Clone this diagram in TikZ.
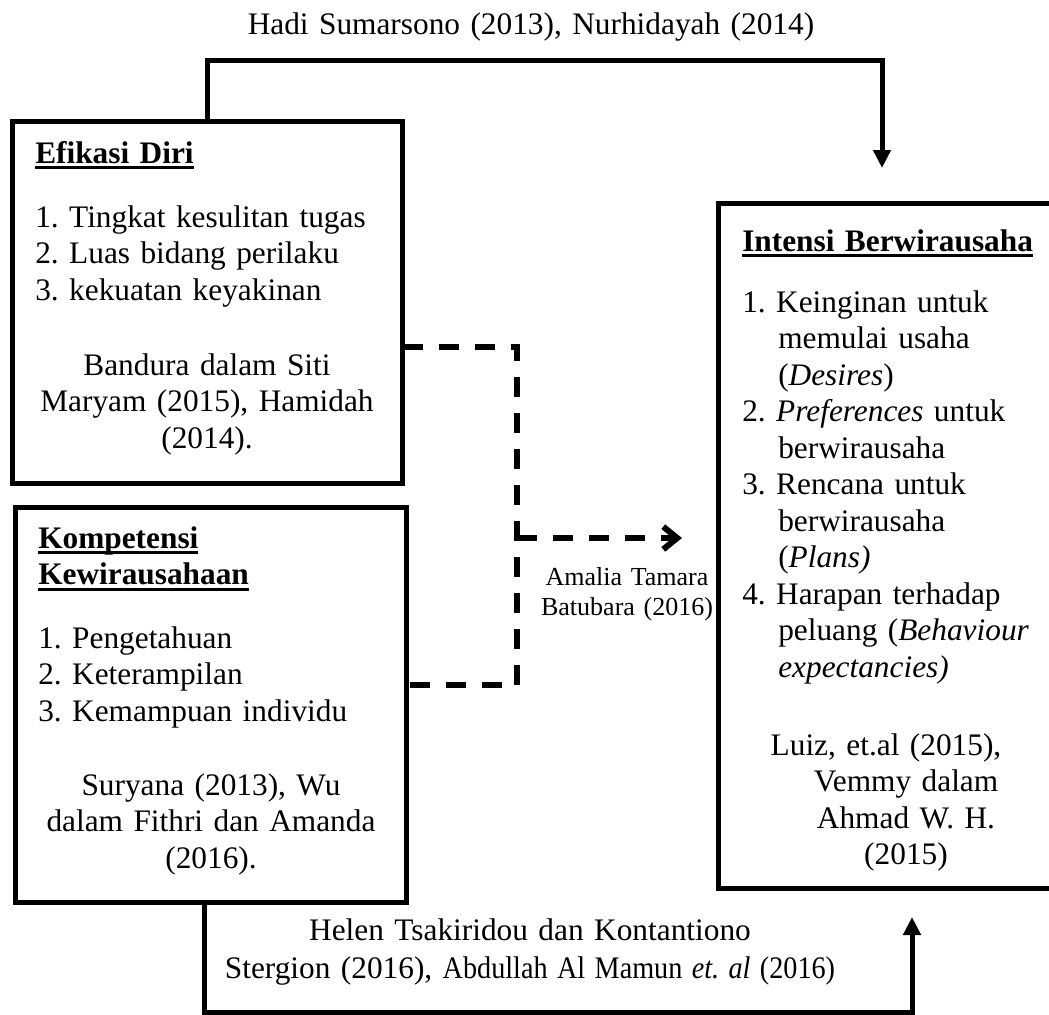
\documentclass[tikz,border=0pt]{standalone}
\usepackage{fontspec}
\setmainfont{Liberation Serif}
\usepackage{tikz}
\usetikzlibrary{arrows.meta}
\frenchspacing
\newsavebox{\titlebox}
\newcommand{\titleline}[1]{\sbox{\titlebox}{#1}\leavevmode\hbox{\rlap{\rule[-4.5pt]{\wd\titlebox}{2.2pt}}\usebox{\titlebox}}}
\newcommand{\bodyfont}{\fontsize{23.5pt}{27.4pt}\selectfont}
\newcommand{\notefont}{\fontsize{23.5pt}{28.5pt}\selectfont}
\newcommand{\smallnote}{\fontsize{19.5pt}{22.5pt}\selectfont}
\newcommand{\contline}{\hspace*{27pt}}
\tikzstyle{box} = [rectangle, 
draw=black, 
line width=3.75pt, 
inner sep=0pt, 
outer sep=0pt, 
anchor=north west]
\tikzstyle{title} = [font=\bodyfont\bfseries, 
anchor=base west, 
inner sep=0pt, 
text width=300pt, 
align=left]
\tikzstyle{list} = [font=\bodyfont, 
anchor=base west, 
inner sep=0pt, 
text width=280pt, 
align=left]
\tikzstyle{source} = [font=\bodyfont, 
anchor=base, 
inner sep=0pt, 
text width=290pt, 
align=center]
\tikzstyle{note} = [font=\notefont, 
anchor=base, 
inner sep=0pt, 
text width=480pt, 
align=center]
\tikzstyle{arrow} = [line width=3.75pt, -{Triangle[width=12.75pt,length=13.5pt]}]
\tikzstyle{dashline} = [line width=4.5pt, dash pattern=on 15pt off 12pt]
\tikzstyle{dasharrow} = [dashline, -{Straight Barb[width=17pt,length=10.5pt]}]

\begin{document}
\begin{tikzpicture}[x=0.75pt, y=-0.75pt]
\useasboundingbox (0,0) rectangle (1049,1014);

\node (efikasi) [box, minimum width=292.5pt, minimum height=271.5pt] at (12.5,121) {};
\node (kompetensi) [box, minimum width=293.6pt, minimum height=296.25pt] at (15.5,507) {};
\node (intensi) [box, minimum width=272pt, minimum height=513.75pt] at (718,203) {};

\node (efikasititle) [title] at (35,163) {\titleline{Efikasi Diri}};
\node (efikasilist) [list] at (35,227) {1. Tingkat kesulitan tugas\\ 2. Luas bidang perilaku\\ 3. kekuatan keyakinan};
\node (efikasisource) [source] at (207,375) {Bandura dalam Siti\\ Maryam (2015), Hamidah\\ (2014).};

\node (kompetensititle) [title] at (38,548) {\titleline{Kompetensi}\\ \titleline{Kewirausahaan}};
\node (kompetensilist) [list] at (38,648) {1. Pengetahuan\\ 2. Keterampilan\\ 3. Kemampuan individu};
\node (kompetensisource) [source] at (211,795) {Suryana (2013), Wu\\ dalam Fithri dan Amanda\\ (2016).};

\node (intensititle) [title] at (742,251) {\titleline{Intensi Berwirausaha}};
\node (intensilist) [list] at (742,312) {1. Keinginan untuk\\
\contline memulai usaha\\
\contline(\textit{Desires})\\
2. \textit{Preferences} untuk\\
\contline berwirausaha\\
3. Rencana untuk\\
\contline berwirausaha\\
\contline(\textit{Plans)}\\
4. Harapan terhadap\\
\contline peluang (\textit{Behaviour}\\
\contline\textit{expectancies)}};
\node (intensisource) [source] at (906,755) {\hspace*{-30pt}Luiz, et.al (2015),\\ Vemmy dalam\\ Ahmad W. H.\\ (2015)};

\node (hadi) [note] at (531,34) {Hadi Sumarsono (2013), Nurhidayah (2014)};
\node (amalia) [note, font=\smallnote, text width=200pt] at (627,585) {Amalia Tamara\\ Batubara (2016)};
\node (helen) [note] at (530,940) {Helen Tsakiridou dan Kontantiono\\ Stergion (2016), \scalebox{0.9}[1]{Abdullah Al Mamun \textit{et. al} (2016)}};

\coordinate (haditurn) at (882,60.5);
\coordinate (hadiend) at (882,168);
\coordinate (helenturn) at (912,1012);
\coordinate (helenend) at (912,917);
\coordinate (dashtop) at (517,347);
\coordinate (dashbot) at (517,685);
\coordinate (dashmid) at (517,538);
\coordinate (amaliaend) at (682,538);

\draw [arrow] (efikasi.north) |- (haditurn) -- (hadiend);
\draw [arrow] ([xshift=-5.25pt]kompetensi.south) |- (helenturn) -- (helenend);
\draw [dashline] (efikasi.east |- dashtop) -- (dashtop) -- (dashbot) -- (kompetensi.east |- dashbot);
\draw [dasharrow] (dashmid) -- (amaliaend);

\end{tikzpicture}
\end{document}
